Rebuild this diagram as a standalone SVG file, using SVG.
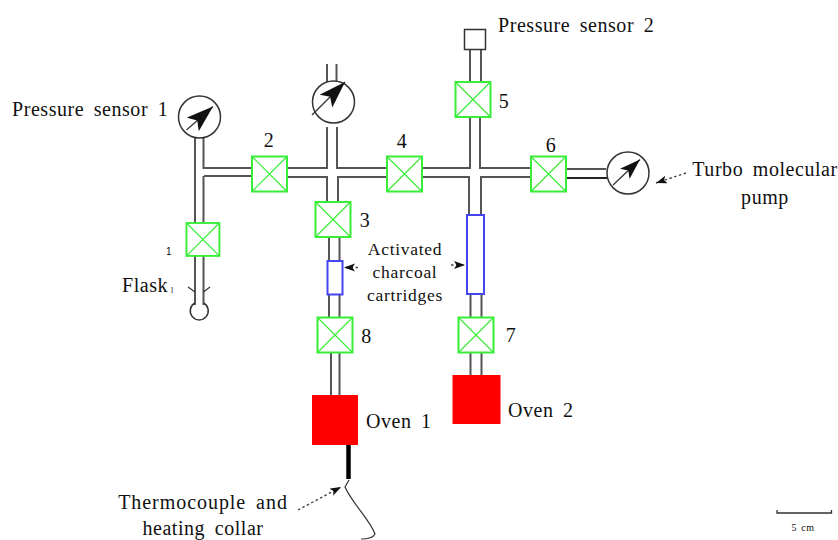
<svg xmlns="http://www.w3.org/2000/svg" width="838" height="540" viewBox="0 0 838 540">
<style>
text{font-family:"Liberation Serif","Times New Roman",serif;fill:#111;font-size:20px;word-spacing:4px;letter-spacing:.55px}
.m{text-anchor:middle}
.n{font-size:20px}
.a{font-size:17.500px;letter-spacing:.7px}
.p{stroke:#555;stroke-width:2;fill:none}
.v{fill:#fff;stroke:#38ee38;stroke-width:2}
.x{stroke:#38ee38;stroke-width:1.200;fill:none}
.c{fill:#fff;stroke:#4444f0;stroke-width:2}
.g{fill:#fff;stroke:#333;stroke-width:1.500}
.l{stroke:#333;stroke-width:1.200;fill:none}
.d{stroke:#444;stroke-width:1.400;stroke-dasharray:2.500 2.500;fill:none}
.o{fill:#f00}
</style>
<defs>
<marker id="h" markerUnits="userSpaceOnUse" markerWidth="12" markerHeight="10" refX="11" refY="4" orient="auto"><path d="M0 0L11 4L0 8L2.500 4Z" fill="#111"/></marker>
<marker id="big" markerUnits="userSpaceOnUse" markerWidth="30" markerHeight="24" refX="27" refY="9" orient="auto"><path d="M0 0L27 9L0 18L6 9Z" fill="#111"/></marker>
<marker id="mid" markerUnits="userSpaceOnUse" markerWidth="24" markerHeight="20" refX="21" refY="7" orient="auto"><path d="M0 0L21 7L0 14L5 7Z" fill="#111"/></marker>
<g id="vx"><rect class="v" width="35" height="35"/><path class="x" d="M0 0L35 35M35 0L0 35"/></g>
</defs>
<rect width="838" height="540" fill="#fff"/>
<g id="connectors">
<path class="p" d="M195 138V305M203.500 138V168H252M203.500 176V223M203.500 256V305M204 176H252"/>
<path class="p" d="M287 168H327V127M337 127V168H387M287 177H327V202M338 202V177H387M327 64V82M336.500 64V82"/>
<path class="p" d="M422 168H470V117M480 117V168H531M422 177H469V215M481 215V177H531"/>
<path class="p" d="M470 50V82M481 50V82"/>
<path class="p" d="M329 237V261M339.500 237V261M329 295V317M339.500 295V317M331 353V395M339.500 353V395"/>
<path class="p" d="M470.500 294V317M481.500 294V317M470.500 353V376M481.500 353V376"/>
<path class="p" d="M567 169H606"/>
<path d="M567 178H607" stroke="#222" stroke-width="2" fill="none"/>
<path class="l" d="M188 287L195 292M210 287L203.500 292"/>
<path d="M348.500 445V479" stroke="#000" stroke-width="4.500" fill="none"/>
<path class="l" d="M349 480L345 487C352 503 370 520 375 534C373 538 366 539 361 539"/>
<path class="d" d="M686 173L656 183" marker-end="url(#h)"/>
<path class="d" d="M358 267.500H344" marker-end="url(#h)"/>
<path class="d" d="M451 265H465" marker-end="url(#h)"/>
<path class="d" d="M298 510L341 487" marker-end="url(#h)"/>
</g>
<g id="sensor1"><circle class="g" cx="199.500" cy="117" r="21"/><path class="l" d="M186.500 130L213 106.500" marker-end="url(#big)"/><text x="12" y="116">Pressure sensor 1</text></g>
<g id="gauge-mid"><circle class="g" cx="333.500" cy="102" r="21"/><path class="l" d="M312 115L345 82" marker-end="url(#big)"/></g>
<g id="sensor2"><rect class="g" x="464.500" y="29.500" width="21" height="20"/><text x="498" y="32">Pressure sensor 2</text></g>
<g id="pump"><circle class="g" cx="628" cy="173" r="21"/><path class="l" d="M613 185L640 159.500" marker-end="url(#mid)"/><text class="m" x="765" y="176">Turbo molecular</text><text class="m" x="765" y="204">pump</text></g>
<g id="valve1"><use href="#vx" transform="translate(186.500 223) scale(.94)"/><text x="166" y="255" style="font-family:'Liberation Sans',sans-serif;font-size:10px">1</text></g>
<g id="valve2"><use href="#vx" x="252" y="156.500"/><text class="m n" x="269" y="147">2</text></g>
<g id="valve3"><use href="#vx" x="315.500" y="202"/><text class="m n" x="365" y="227">3</text></g>
<g id="valve4"><use href="#vx" x="387" y="156.500"/><text class="m n" x="402" y="148">4</text></g>
<g id="valve5"><use href="#vx" x="455.500" y="82"/><text class="m n" x="504" y="108">5</text></g>
<g id="valve6"><use href="#vx" x="531" y="156.500"/><text class="m n" x="551" y="152">6</text></g>
<g id="valve7"><use href="#vx" x="458.500" y="317.500"/><text class="m n" x="511" y="342">7</text></g>
<g id="valve8"><use href="#vx" x="317.500" y="317.500"/><text class="m n" x="366.500" y="343">8</text></g>
<g id="flask"><path class="g" d="M195 303A9 9 0 1 0 203.500 303" style="fill:none"/><text x="122" y="292">Flask</text><text x="171" y="293" style="font-size:8px;fill:#222">l</text></g>
<g id="cartridge1"><rect class="c" x="327.500" y="261" width="15" height="33.500"/></g>
<g id="cartridge2"><rect class="c" x="467" y="215" width="17" height="79"/></g>
<g id="cartridge-label"><text class="m a" x="405" y="255">Activated</text><text class="m a" x="405" y="278">charcoal</text><text class="m a" x="405" y="301">cartridges</text></g>
<g id="oven1"><rect class="o" x="312" y="395" width="46" height="50"/><text x="366" y="428">Oven 1</text></g>
<g id="oven2"><rect class="o" x="452.500" y="375" width="48" height="49"/><text x="508" y="417">Oven 2</text></g>
<g id="thermocouple"><text class="m" x="203" y="509" style="letter-spacing:.95px">Thermocouple and</text><text class="m" x="203" y="535">heating collar</text></g>
<g id="scale"><path d="M777 510V513H831.500V510" stroke="#333" stroke-width="1.300" fill="none"/><text class="m" x="803" y="531" style="font-size:10px;letter-spacing:.6px;word-spacing:1px">5 cm</text></g>
</svg>
